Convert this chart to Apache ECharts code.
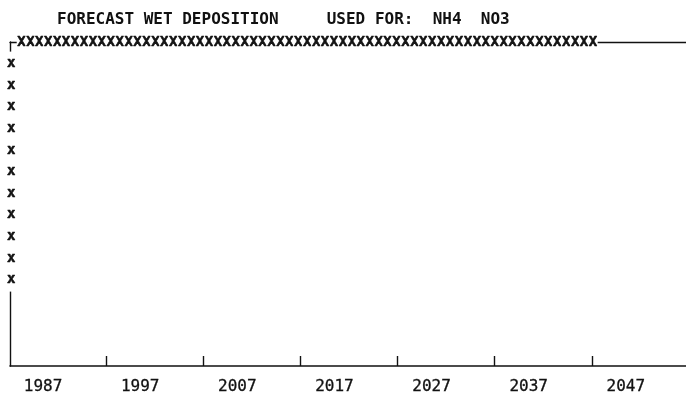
<!DOCTYPE html>
<html>
<head>
<meta charset="utf-8">
<script src="https://cdn.jsdelivr.net/npm/echarts@6/dist/echarts.min.js"></script>
<style>
  html, body { margin: 0; padding: 0; background: #fff; }
  #chart { width: 686px; height: 396px; }
</style>
</head>
<body>
<div id="chart"></div>
<script>
// Printer-plot of the forecast wet deposition (NH4, NO3).
// Year axis: labelled years and the tick marks between them.
const yearLabels = [1987, 1997, 2007, 2017, 2027, 2037, 2047];
const yearTicks = [1993.5, 2003.5, 2013.5, 2023.5, 2033.5, 2043.5];

// Plotted print rows (0 = axis, 15 = top of frame).
// Top row: one entry per print column, starting at column 1.
const topRow = [
  15, 15, 15, 15, 15, 15, 15, 15, 15, 15,
  15, 15, 15, 15, 15, 15, 15, 15, 15, 15,
  15, 15, 15, 15, 15, 15, 15, 15, 15, 15,
  15, 15, 15, 15, 15, 15, 15, 15, 15, 15,
  15, 15, 15, 15, 15, 15, 15, 15, 15, 15,
  15, 15, 15, 15, 15, 15, 15, 15, 15, 15,
  15, 15, 15, 15, 15
];
// First print column (column 0): rows marked on the way down.
const firstColumn = [14, 13, 12, 11, 10, 9, 8, 7, 6, 5, 4];

const titleText = 'FORECAST WET DEPOSITION     USED FOR:  NH4  NO3';

const mono = '"DejaVu Sans Mono", "Liberation Mono", monospace';
const ink = '#111';

const chart = echarts.init(document.getElementById('chart'), null, { renderer: 'canvas' });

chart.setOption({
  animation: false,
  backgroundColor: '#fff',
  title: {
    text: titleText,
    left: 57,
    top: 12,
    padding: 0,
    textStyle: { fontFamily: mono, fontSize: 16, fontWeight: 'bold', color: ink }
  },
  grid: { left: 10, right: 0, top: 42, bottom: 30, containLabel: false },
  xAxis: [
    {
      type: 'value',
      position: 'bottom',
      min: 1983.6,
      max: 2053.2,
      axisLine: { show: true, lineStyle: { color: ink, width: 1.6 } },
      axisTick: { show: true, inside: true, length: 10, customValues: yearTicks,
                  lineStyle: { color: ink, width: 1.4 } },
      axisLabel: { show: true, customValues: yearLabels, margin: 13,
                   formatter: v => String(v),
                   fontFamily: mono, fontSize: 16, color: ink,
                   textBorderColor: ink, textBorderWidth: 0.3 },
      splitLine: { show: false }
    },
    {
      // print-column scale, its line forms the top edge of the frame
      type: 'value',
      position: 'top',
      min: -0.28,
      max: 75.42,
      axisLine: { show: true, onZero: false, lineStyle: { color: ink, width: 1.4 } },
      axisTick: { show: false },
      axisLabel: { show: false },
      splitLine: { show: false }
    }
  ],
  yAxis: {
    type: 'value',
    min: 0,
    max: 15,
    axisLine: { show: true, onZero: false, lineStyle: { color: ink, width: 1.4 } },
    axisTick: { show: false },
    axisLabel: { show: false },
    splitLine: { show: false }
  },
  series: [
    {
      name: 'NH4 NO3',
      type: 'scatter',
      xAxisIndex: 1,
      symbolSize: 0,
      itemStyle: { opacity: 1 },
      data: topRow.map((v, i) => [i + 1, v]),
      label: {
        show: true, position: 'inside', formatter: 'X',
        fontFamily: mono, fontSize: 14, fontWeight: 'bold', color: ink,
        textBorderColor: ink, textBorderWidth: 0.5,
        backgroundColor: '#fff', lineHeight: 12, padding: [0, 0.5, 0, 0.5]
      }
    },
    {
      name: 'NH4 NO3 start',
      type: 'scatter',
      xAxisIndex: 1,
      symbolSize: 0,
      itemStyle: { opacity: 1 },
      data: firstColumn.map(v => [-0.15, v]),
      label: {
        show: true, position: 'inside', formatter: 'x',
        fontFamily: mono, fontSize: 14, fontWeight: 'bold', color: ink,
        textBorderColor: ink, textBorderWidth: 0.5,
        backgroundColor: '#fff', lineHeight: 12, padding: [6, 4, 6, 4]
      }
    }
  ]
});
</script>
</body>
</html>
